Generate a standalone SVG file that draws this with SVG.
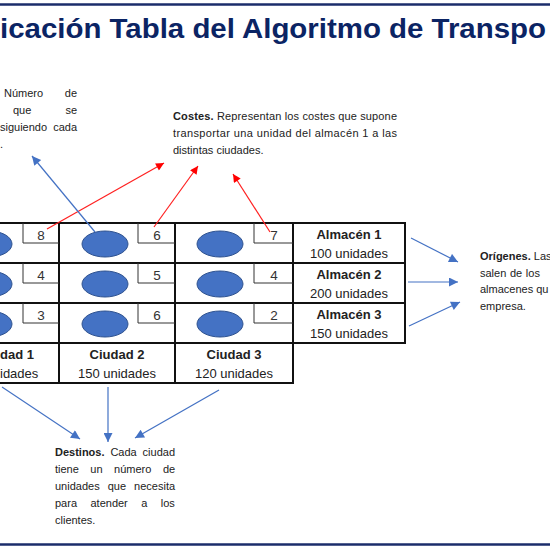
<svg xmlns="http://www.w3.org/2000/svg" width="550" height="550" viewBox="0 0 550 550">
<defs>
<style>
text{font-family:"Liberation Sans",Arial,sans-serif;fill:#222;}
.title{font-size:27px;font-weight:bold;fill:#0B2464;}
.grid{stroke:#111;stroke-width:2;fill:none;}
.cbox{stroke:#333;stroke-width:1;fill:none;}
.dot{fill:#4472C4;stroke:#2F528F;stroke-width:1;}
.num{font-size:13.5px;text-anchor:middle;fill:#333;}
.hd{font-size:13px;font-weight:bold;text-anchor:middle;fill:#222;}
.sub{font-size:13px;text-anchor:middle;fill:#222;}
.p{font-size:11px;fill:#222;}
.b{font-weight:bold;}
.red{stroke:#FF2020;stroke-width:1.2;fill:none;marker-end:url(#ar);}
.blue{stroke:#4472C4;stroke-width:1.2;fill:none;marker-end:url(#ab);}
.rule{stroke:#1B2D6B;stroke-width:2.5;}
</style>
<marker id="ar" viewBox="0 0 10 10" refX="10" refY="5" markerWidth="10" markerHeight="8" markerUnits="userSpaceOnUse" orient="auto"><path d="M0,0 L10,5 L0,10 z" fill="#FF0000"/></marker>
<marker id="ab" viewBox="0 0 10 10" refX="10" refY="5" markerWidth="11" markerHeight="9" markerUnits="userSpaceOnUse" orient="auto"><path d="M0,0 L10,5 L0,10 z" fill="#4472C4"/></marker>
</defs>
<rect width="550" height="550" fill="#fff"/>
<line class="rule" x1="0" y1="4.5" x2="550" y2="4.5"/>
<line class="rule" x1="0" y1="544.5" x2="550" y2="544.5"/>
<g id="title"><text class="title" x="0" y="38" textLength="546" lengthAdjust="spacingAndGlyphs">icación Tabla del Algoritmo de Transpo</text></g>

<g id="table">
<g class="grid">
<line x1="0" y1="223" x2="406" y2="223"/>
<line x1="0" y1="263" x2="406" y2="263"/>
<line x1="0" y1="303" x2="406" y2="303"/>
<line x1="0" y1="343" x2="406" y2="343"/>
<line x1="0" y1="383" x2="294" y2="383"/>
<line x1="59" y1="222" x2="59" y2="384"/>
<line x1="175" y1="222" x2="175" y2="384"/>
<line x1="293" y1="222" x2="293" y2="384"/>
<line x1="405" y1="222" x2="405" y2="344"/>
</g>
<g id="cell-1-1"><ellipse class="dot" cx="-11" cy="244" rx="23" ry="13"/><path class="cbox" d="M23,223 V243 H59"/><text class="num" x="41" y="240">8</text></g>
<g id="cell-1-2"><ellipse class="dot" cx="105" cy="244" rx="23" ry="13"/><path class="cbox" d="M138,223 V243 H175"/><text class="num" x="157" y="240">6</text></g>
<g id="cell-1-3"><ellipse class="dot" cx="220" cy="244" rx="23" ry="13"/><path class="cbox" d="M254,223 V243 H293"/><text class="num" x="274" y="240">7</text></g>
<g id="cell-2-1"><ellipse class="dot" cx="-11" cy="284" rx="23" ry="13"/><path class="cbox" d="M23,263 V283 H59"/><text class="num" x="41" y="280">4</text></g>
<g id="cell-2-2"><ellipse class="dot" cx="105" cy="284" rx="23" ry="13"/><path class="cbox" d="M138,263 V283 H175"/><text class="num" x="157" y="280">5</text></g>
<g id="cell-2-3"><ellipse class="dot" cx="220" cy="284" rx="23" ry="13"/><path class="cbox" d="M254,263 V283 H293"/><text class="num" x="274" y="280">4</text></g>
<g id="cell-3-1"><ellipse class="dot" cx="-11" cy="324" rx="23" ry="13"/><path class="cbox" d="M23,303 V323 H59"/><text class="num" x="41" y="320">3</text></g>
<g id="cell-3-2"><ellipse class="dot" cx="105" cy="324" rx="23" ry="13"/><path class="cbox" d="M138,303 V323 H175"/><text class="num" x="157" y="320">6</text></g>
<g id="cell-3-3"><ellipse class="dot" cx="220" cy="324" rx="23" ry="13"/><path class="cbox" d="M254,303 V323 H293"/><text class="num" x="274" y="320">2</text></g>
<g id="almacen-1"><text class="hd" x="349" y="239">Almacén 1</text><text class="sub" x="349" y="258">100 unidades</text></g>
<g id="almacen-2"><text class="hd" x="349" y="279">Almacén 2</text><text class="sub" x="349" y="298">200 unidades</text></g>
<g id="almacen-3"><text class="hd" x="349" y="319">Almacén 3</text><text class="sub" x="349" y="338">150 unidades</text></g>
<g id="ciudad-1"><text class="hd" x="0" y="359" style="text-anchor:start">dad 1</text><text class="sub" x="0" y="378" style="text-anchor:start">idades</text></g>
<g id="ciudad-2"><text class="hd" x="117" y="359">Ciudad 2</text><text class="sub" x="117" y="378">150 unidades</text></g>
<g id="ciudad-3"><text class="hd" x="234" y="359">Ciudad 3</text><text class="sub" x="234" y="378">120 unidades</text></g>
</g>

<g id="note-numero">
<text class="p" x="4" y="97" word-spacing="18.6">Número de</text>
<text class="p" x="13" y="114" word-spacing="31">que se</text>
<text class="p" x="0" y="131" word-spacing="3">siguiendo cada</text>
<text class="p" x="0" y="148">.</text>
</g>
<g id="note-costes">
<text class="p" x="173" y="120" textLength="224"><tspan class="b">Costes.</tspan> Representan los costes que supone</text>
<text class="p" x="173" y="137" textLength="224">transportar una unidad del almacén 1 a las</text>
<text class="p" x="173" y="154">distintas ciudades.</text>
</g>
<g id="note-origenes">
<text class="p" x="480" y="260"><tspan class="b">Orígenes.</tspan> Las</text>
<text class="p" x="480" y="277" word-spacing="0.6">salen de los</text>
<text class="p" x="480" y="293">almacenes qu</text>
<text class="p" x="480" y="310">empresa.</text>
</g>
<g id="note-destinos">
<text class="p" x="55" y="456" word-spacing="2.85"><tspan class="b">Destinos.</tspan> Cada ciudad</text>
<text class="p" x="55" y="473" word-spacing="8.45">tiene un número de</text>
<text class="p" x="55" y="490" word-spacing="5">unidades que necesita</text>
<text class="p" x="55" y="507" word-spacing="10.4">para atender a los</text>
<text class="p" x="55" y="524">clientes.</text>
</g>

<g id="connectors">
<line class="red" x1="47" y1="229" x2="164" y2="163"/>
<line class="red" x1="154" y1="227" x2="198" y2="166"/>
<line class="red" x1="270" y1="232" x2="233" y2="174"/>
<line class="blue" x1="95" y1="232" x2="32" y2="156"/>
<line class="blue" x1="411" y1="238" x2="458" y2="262"/>
<line class="blue" x1="408" y1="282" x2="458" y2="282"/>
<line class="blue" x1="409" y1="326" x2="460" y2="302"/>
<line class="blue" x1="2" y1="387" x2="80" y2="439"/>
<line class="blue" x1="108" y1="387" x2="108" y2="442"/>
<line class="blue" x1="219" y1="390" x2="135" y2="438"/>
</g>
</svg>
